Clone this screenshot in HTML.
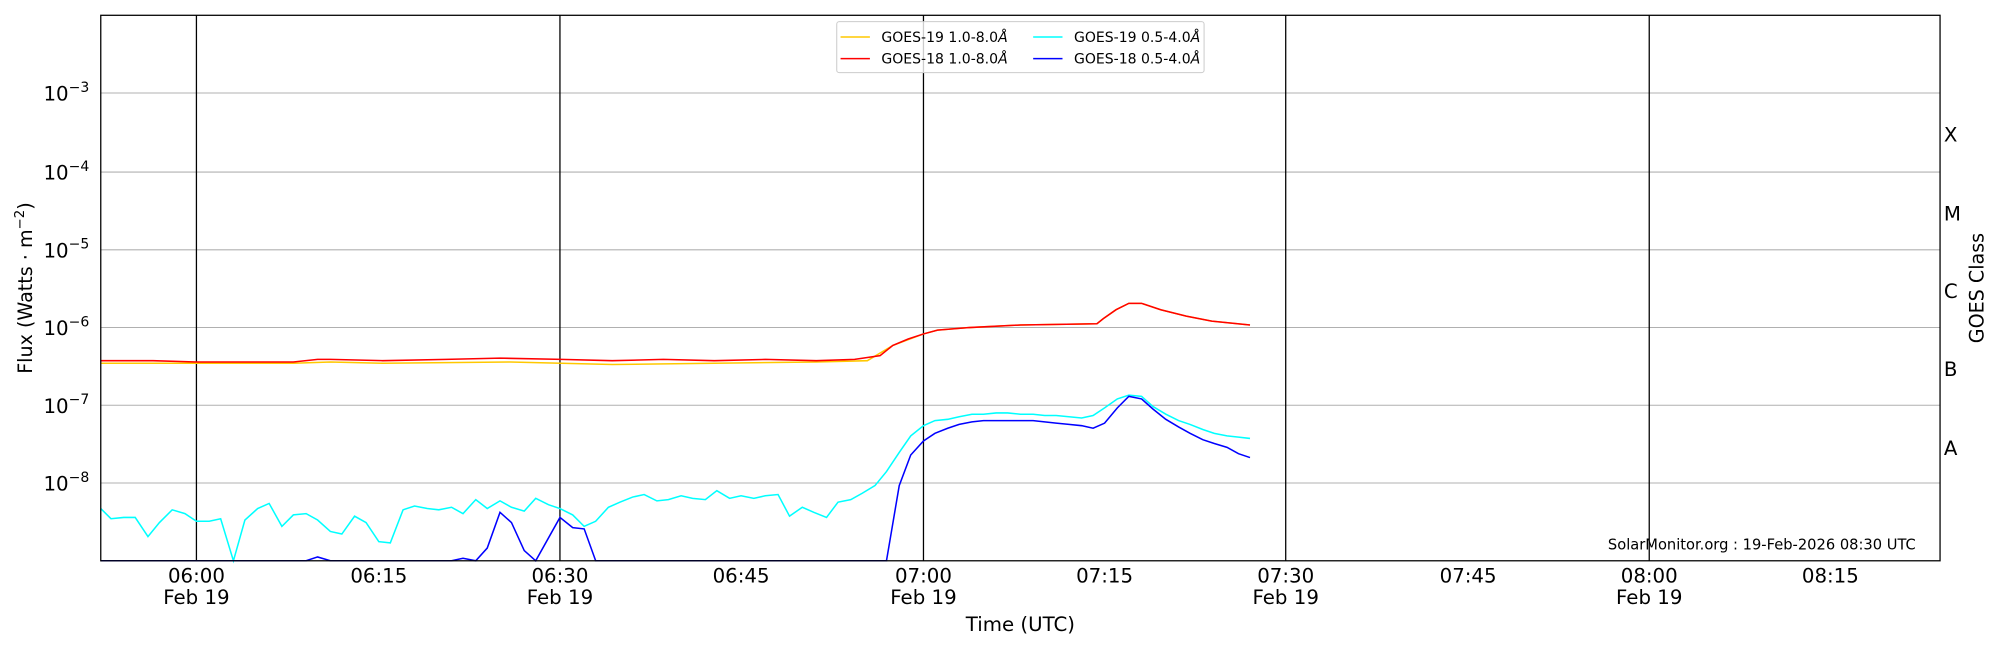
<!DOCTYPE html>
<html><head><meta charset="utf-8"><style>html,body{margin:0;padding:0;background:#fff}svg{display:block}</style></head><body>
<svg width="2000" height="650" viewBox="0 0 1568 510" preserveAspectRatio="none" xmlns="http://www.w3.org/2000/svg" font-family="DejaVu Sans, Liberation Sans, sans-serif">
<rect width="1568" height="510" fill="#fff"/>
<g stroke="#b0b0b0" stroke-width="0.8">
<line x1="79" x2="1521" y1="73" y2="73"/><line x1="79" x2="1521" y1="135" y2="135"/><line x1="79" x2="1521" y1="196" y2="196"/><line x1="79" x2="1521" y1="257" y2="257"/><line x1="79" x2="1521" y1="318" y2="318"/><line x1="79" x2="1521" y1="379" y2="379"/>
</g>
<g stroke="#000" stroke-width="1">
<line x1="154" x2="154" y1="12" y2="440"/><line x1="439" x2="439" y1="12" y2="440"/><line x1="724" x2="724" y1="12" y2="440"/><line x1="1008" x2="1008" y1="12" y2="440"/><line x1="1293" x2="1293" y1="12" y2="440"/>
</g>
<g id="ticks" stroke="#000" stroke-width="0.8"></g>
<polyline fill="none" stroke="#ffc800" stroke-width="1.2" points="79,285 154,285 230,285 259,284 300,285 400,284 480,286 560,285 640,284 680,283 700,271 724,262 735,259 760,257 800,255 860,254 865,250 875,243 885,238 895,238 910,243 930,248 950,252 980,255"/>
<polyline fill="none" stroke="#ff0000" stroke-width="1.2" points="79,283 120,283 154,284 200,284 230,284 249,282 259,282 300,283 350,282 392,281 440,282 480,283 520,282 560,283 600,282 640,283 670,282 690,279 700,271 712,266 724,262 735,259 760,257 800,255 860,254 865,250 875,243 885,238 895,238 910,243 930,248 950,252 980,255"/>
<polyline fill="none" stroke="#00ffff" stroke-width="1.2" points="79,399 87,407 97,406 106,406 116,421 125,410 135,400 145,403 154,409 164,409 173,407 183,440 192,408 202,399 211,395 221,413 230,404 240,403 249,408 259,417 268,419 278,405 287,410 297,425 306,426 316,400 325,397 335,399 344,400 354,398 363,403 373,392 382,399 392,393 401,398 411,401 420,391 430,396 439,399 449,404 458,413 467,409 477,398 486,394 496,390 505,388 515,393 524,392 534,389 543,391 553,392 562,385 572,391 581,389 591,391 600,389 610,388 619,405 629,398 638,402 648,406 657,394 667,392 676,387 686,381 695,370 705,355 714,342 724,334 733,330 743,329 752,327 762,325 771,325 781,324 790,324 800,325 810,325 819,326 828,326 838,327 848,328 857,326 866,320 876,313 885,310 895,311 904,319 914,325 924,330 933,333 943,337 952,340 962,342 971,343 980,344"/>
<polyline fill="none" stroke="#0000ff" stroke-width="1.2" points="79,440 240,440 249,437 259,440 354,440 363,438 373,440 382,430 392,402 401,410 411,432 420,440 439,406 449,414 458,415 467,440 695,440 705,381 714,357 724,346 733,340 743,336 752,333 762,331 771,330 781,330 800,330 810,330 819,331 828,332 838,333 848,334 857,336 866,332 876,320 885,311 895,313 904,321 914,329 924,335 933,340 943,345 952,348 962,351 971,356 980,359"/>
<rect x="79" y="12" width="1442" height="428" fill="none" stroke="#000" stroke-width="1"/>
<g>
<rect x="656" y="17" width="288" height="40" rx="2" fill="#fff" fill-opacity="0.8" stroke="#ccc" stroke-width="0.8"/>
<line x1="659" x2="682" y1="29" y2="29" stroke="#ffc800" stroke-width="1.2"/>
<line x1="659" x2="682" y1="46" y2="46" stroke="#f00" stroke-width="1.2"/>
<line x1="810" x2="833" y1="29" y2="29" stroke="#0ff" stroke-width="1.2"/>
<line x1="810" x2="833" y1="46" y2="46" stroke="#00f" stroke-width="1.2"/>
<g font-size="11" fill="#000"><text x="691" y="33">GOES-19 1.0-8.0<tspan font-style="italic">Å</tspan></text><text x="691" y="50">GOES-18 1.0-8.0<tspan font-style="italic">Å</tspan></text><text x="842" y="33">GOES-19 0.5-4.0<tspan font-style="italic">Å</tspan></text><text x="842" y="50">GOES-18 0.5-4.0<tspan font-style="italic">Å</tspan></text></g>
</g>
<g font-size="15.5" fill="#000" text-anchor="end">
<text x="70" y="79">10<tspan dy="-7" font-size="11">−3</tspan></text>
<text x="70" y="141">10<tspan dy="-7" font-size="11">−4</tspan></text>
<text x="70" y="202">10<tspan dy="-7" font-size="11">−5</tspan></text>
<text x="70" y="263">10<tspan dy="-7" font-size="11">−6</tspan></text>
<text x="70" y="324">10<tspan dy="-7" font-size="11">−7</tspan></text>
<text x="70" y="385">10<tspan dy="-7" font-size="11">−8</tspan></text>
</g>
<g font-size="15.5" fill="#000">
<text x="1524" y="111">X</text><text x="1524" y="173">M</text><text x="1524" y="234">C</text><text x="1524" y="295">B</text><text x="1524" y="357">A</text>
</g>
<g font-size="15.5" fill="#000" text-anchor="middle">
<text x="154" y="457">06:00</text><text x="154" y="474">Feb 19</text>
<text x="297" y="457">06:15</text>
<text x="439" y="457">06:30</text><text x="439" y="474">Feb 19</text>
<text x="581" y="457">06:45</text>
<text x="724" y="457">07:00</text><text x="724" y="474">Feb 19</text>
<text x="866" y="457">07:15</text>
<text x="1008" y="457">07:30</text><text x="1008" y="474">Feb 19</text>
<text x="1151" y="457">07:45</text>
<text x="1293" y="457">08:00</text><text x="1293" y="474">Feb 19</text>
<text x="1435" y="457">08:15</text>
<text x="800" y="495">Time (UTC)</text>
</g>
<text transform="translate(25,226) rotate(-90)" font-size="15" text-anchor="middle">Flux (Watts · m<tspan dy="-6" font-size="10.5">−2</tspan><tspan dy="6">)</tspan></text>
<text transform="translate(1555,226) rotate(-90)" font-size="15" text-anchor="middle">GOES Class</text>
<text x="1502" y="431" font-size="11.5" text-anchor="end">SolarMonitor.org : 19-Feb-2026 08:30 UTC</text>
<script>
var g=document.getElementById('ticks'),s='';
function L(a,b,c,d){s+='<line x1="'+a+'" y1="'+b+'" x2="'+c+'" y2="'+d+'"/>';}
for(var k=0;k<7;k++){var base=440-k*61.14;for(var m=1;m<10;m++){var y=base-Math.log10(m)*61.14;if(y<12)break;var len=m==1?7:4;L(79,y,79+len,y);L(1521,y,1521-len,y);}}
[154,297,439,581,724,866,1008,1151,1293,1435].forEach(function(x){L(x,440,x,433);});
g.innerHTML=s;
</script>
</svg>
</body></html>
